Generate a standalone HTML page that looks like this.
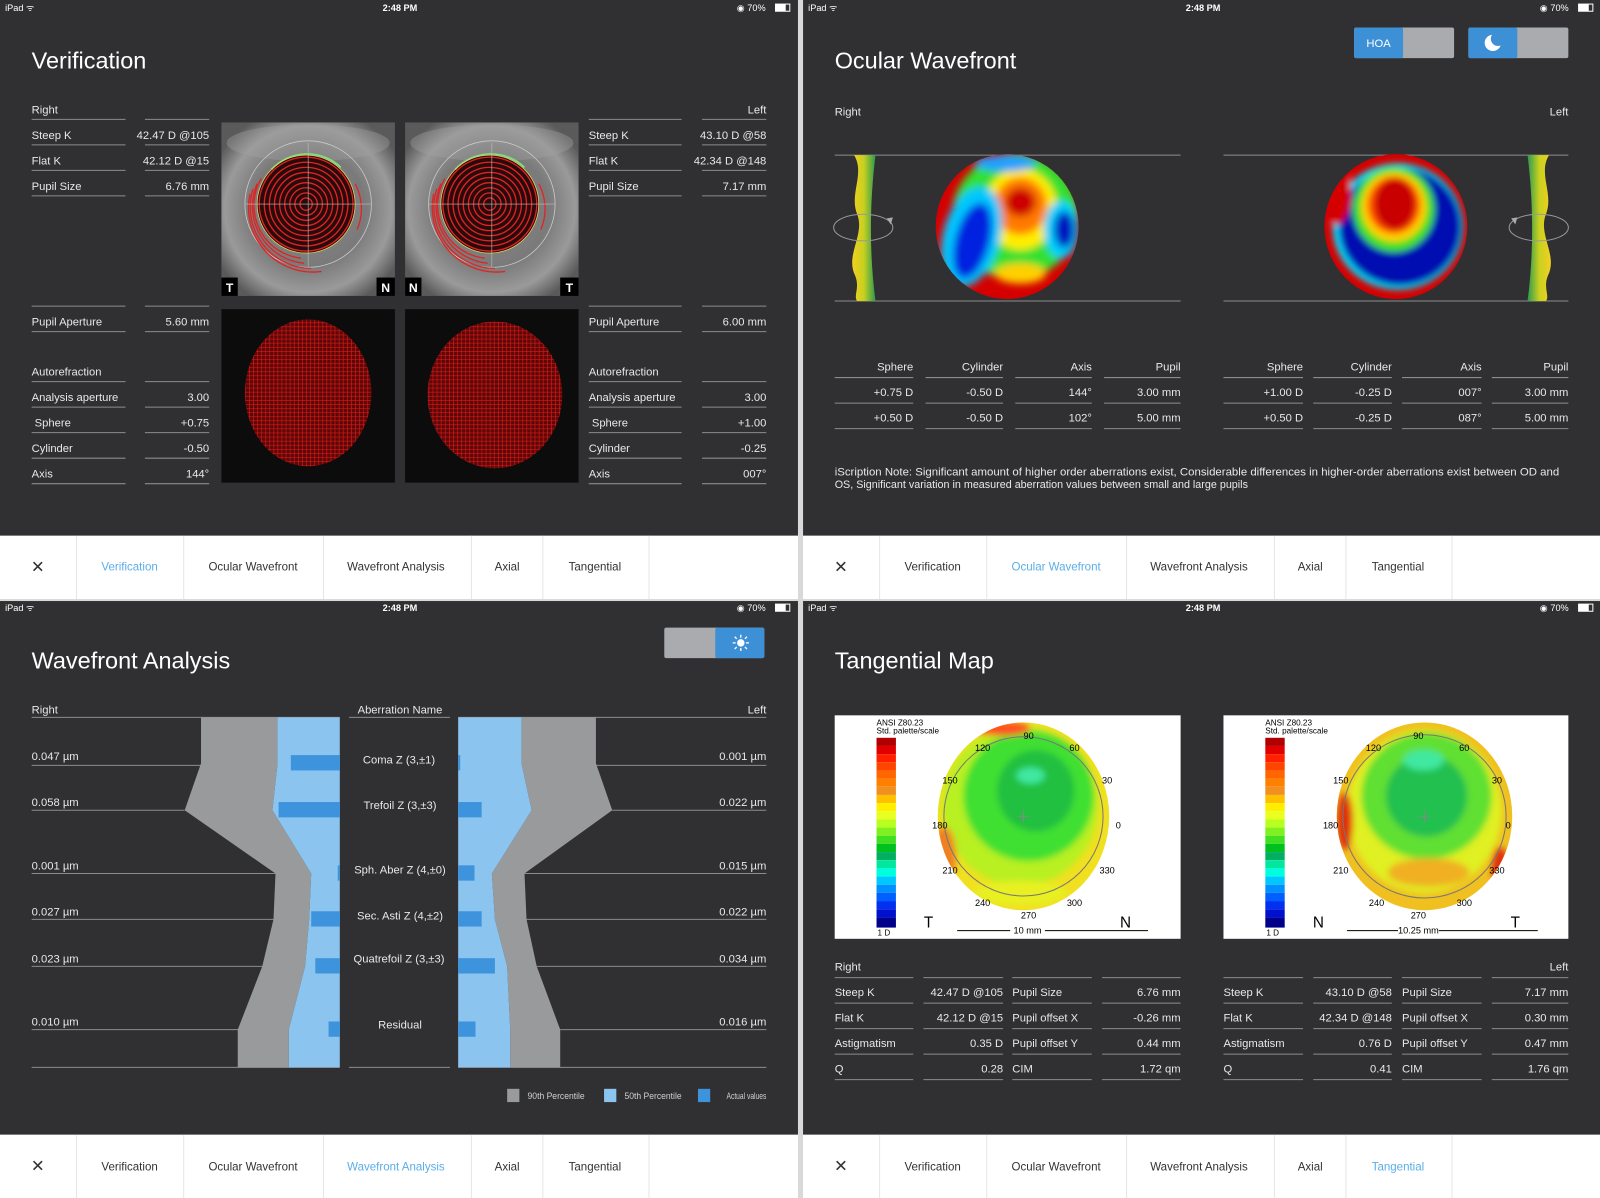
<!DOCTYPE html>
<html><head><meta charset="utf-8"><style>
html,body{margin:0;padding:0;background:#d9d9d9;}
svg{display:block;}
text{font-family:"Liberation Sans",sans-serif;}
</style></head><body>
<svg width="1600" height="1198" viewBox="0 0 1568 1174" preserveAspectRatio="none" xmlns="http://www.w3.org/2000/svg">
<defs>
<radialGradient id="eyeg" cx="50%" cy="50%" r="60%"><stop offset="0" stop-color="#8a8a8a"/><stop offset="0.55" stop-color="#7a7a7a"/><stop offset="0.8" stop-color="#9a9a9a"/><stop offset="1" stop-color="#5a5a5a"/></radialGradient>
<pattern id="grid" width="4" height="4" patternUnits="userSpaceOnUse"><rect width="4" height="4" fill="#5a0808"/><path d="M0 0H4M0 0V4" stroke="#e01818" stroke-width="1.2"/></pattern>
<filter id="bl" x="-20%" y="-20%" width="140%" height="140%"><feGaussianBlur stdDeviation="4"/></filter>
<filter id="bl2" x="-20%" y="-20%" width="140%" height="140%"><feGaussianBlur stdDeviation="3"/></filter>
<clipPath id="cwl"><ellipse cx="987" cy="222" rx="70" ry="71"/></clipPath>
<clipPath id="cwr"><ellipse cx="1368" cy="222" rx="70" ry="71"/></clipPath>
<clipPath id="ctl"><ellipse cx="1003" cy="800" rx="84" ry="92"/></clipPath>
<clipPath id="ctr"><ellipse cx="1396" cy="800" rx="86" ry="92"/></clipPath>
<linearGradient id="lens" x1="0" x2="1"><stop offset="0" stop-color="#f2d020"/><stop offset="0.5" stop-color="#c8d020"/><stop offset="1" stop-color="#2a9a50"/></linearGradient>
<linearGradient id="lens2" x1="1" x2="0"><stop offset="0" stop-color="#f2d020"/><stop offset="0.5" stop-color="#c8d020"/><stop offset="1" stop-color="#2a9a50"/></linearGradient>
</defs>

<rect width="1568" height="1174" fill="#d9d9d9"/>
<rect x="0" y="0" width="782" height="525" fill="#303032"/>
<rect x="0" y="525" width="782" height="62" fill="#fff"/>
<rect x="787" y="0" width="781" height="525" fill="#303032"/>
<rect x="787" y="525" width="781" height="62" fill="#fff"/>
<rect x="0" y="589" width="782" height="523" fill="#303032"/>
<rect x="0" y="1112" width="782" height="62" fill="#fff"/>
<rect x="787" y="589" width="781" height="523" fill="#303032"/>
<rect x="787" y="1112" width="781" height="62" fill="#fff"/>

<g fill="#fff" font-size="9">
<text x="5" y="11">iPad ᯤ</text><text x="392" y="11" text-anchor="middle" font-weight="bold">2:48 PM</text><text x="722" y="11">◉ 70%</text>
<text x="792" y="11">iPad ᯤ</text><text x="1179" y="11" text-anchor="middle" font-weight="bold">2:48 PM</text><text x="1509" y="11">◉ 70%</text>
<text x="5" y="599">iPad ᯤ</text><text x="392" y="599" text-anchor="middle" font-weight="bold">2:48 PM</text><text x="722" y="599">◉ 70%</text>
<text x="792" y="599">iPad ᯤ</text><text x="1179" y="599" text-anchor="middle" font-weight="bold">2:48 PM</text><text x="1509" y="599">◉ 70%</text>
</g>
<g fill="none" stroke="#fff"><rect x="760" y="4" width="14" height="7"/><rect x="1547" y="4" width="14" height="7"/><rect x="760" y="592" width="14" height="7"/><rect x="1547" y="592" width="14" height="7"/></g>
<g fill="#fff"><rect x="760" y="4" width="10" height="7"/><rect x="1547" y="4" width="10" height="7"/><rect x="760" y="592" width="10" height="7"/><rect x="1547" y="592" width="10" height="7"/></g>

<g fill="#fff" font-size="23">
<text x="31" y="67">Verification</text>
<text x="818" y="67">Ocular Wavefront</text>
<text x="31" y="655">Wavefront Analysis</text>
<text x="818" y="655">Tangential Map</text>
</g>

<g font-size="11.3" fill="#333" text-anchor="middle">
<g id="tb1">
<text x="37" y="561" font-size="16">✕</text>
<g stroke="#e6e6e6"><line x1="75" y1="525" x2="75" y2="587"/><line x1="180" y1="525" x2="180" y2="587"/><line x1="317" y1="525" x2="317" y2="587"/><line x1="462" y1="525" x2="462" y2="587"/><line x1="532" y1="525" x2="532" y2="587"/><line x1="636" y1="525" x2="636" y2="587"/></g>
</g>
<text x="127" y="559" fill="#5aaee8">Verification</text><text x="248" y="559">Ocular Wavefront</text><text x="388" y="559">Wavefront Analysis</text><text x="497" y="559">Axial</text><text x="583" y="559">Tangential</text>
<use href="#tb1" x="787"/>
<text x="914" y="559">Verification</text><text x="1035" y="559" fill="#5aaee8">Ocular Wavefront</text><text x="1175" y="559">Wavefront Analysis</text><text x="1284" y="559">Axial</text><text x="1370" y="559">Tangential</text>
<use href="#tb1" y="587"/>
<text x="127" y="1147">Verification</text><text x="248" y="1147">Ocular Wavefront</text><text x="388" y="1147" fill="#5aaee8">Wavefront Analysis</text><text x="497" y="1147">Axial</text><text x="583" y="1147">Tangential</text>
<use href="#tb1" x="787" y="587"/>
<text x="914" y="1147">Verification</text><text x="1035" y="1147">Ocular Wavefront</text><text x="1175" y="1147">Wavefront Analysis</text><text x="1284" y="1147">Axial</text><text x="1370" y="1147" fill="#5aaee8">Tangential</text>
</g>

<!-- Panel 1 -->
<g stroke="#8c8c8c" stroke-width="1">
<path d="M31 117H123M142 117H205M31 142H123M142 142H205M31 167H123M142 167H205M31 192H123M142 192H205M31 300H123M142 300H205M31 325H123M142 325H205M31 374H123M142 374H205M31 399H123M142 399H205M31 424H123M142 424H205M31 449H123M142 449H205M31 474H123M142 474H205"/>
<path d="M577 117H668M688 117H751M577 142H668M688 142H751M577 167H668M688 167H751M577 192H668M688 192H751M577 300H668M688 300H751M577 325H668M688 325H751M577 374H668M688 374H751M577 399H668M688 399H751M577 424H668M688 424H751M577 449H668M688 449H751M577 474H668M688 474H751"/>
</g>
<g fill="#e8e8e8" font-size="11">
<text x="31" y="111">Right</text><text x="31" y="136">Steep K</text><text x="31" y="161">Flat K</text><text x="31" y="186">Pupil Size</text><text x="31" y="319">Pupil Aperture</text><text x="31" y="368">Autorefraction</text><text x="31" y="393">Analysis aperture</text><text x="34" y="418">Sphere</text><text x="31" y="443">Cylinder</text><text x="31" y="468">Axis</text>
<text x="577" y="136">Steep K</text><text x="577" y="161">Flat K</text><text x="577" y="186">Pupil Size</text><text x="577" y="319">Pupil Aperture</text><text x="577" y="368">Autorefraction</text><text x="577" y="393">Analysis aperture</text><text x="580" y="418">Sphere</text><text x="577" y="443">Cylinder</text><text x="577" y="468">Axis</text>
<g text-anchor="end">
<text x="205" y="136">42.47 D @105</text><text x="205" y="161">42.12 D @15</text><text x="205" y="186">6.76 mm</text><text x="205" y="319">5.60 mm</text><text x="205" y="393">3.00</text><text x="205" y="418">+0.75</text><text x="205" y="443">-0.50</text><text x="205" y="468">144°</text>
<text x="751" y="111">Left</text><text x="751" y="136">43.10 D @58</text><text x="751" y="161">42.34 D @148</text><text x="751" y="186">7.17 mm</text><text x="751" y="319">6.00 mm</text><text x="751" y="393">3.00</text><text x="751" y="418">+1.00</text><text x="751" y="443">-0.25</text><text x="751" y="468">007°</text>
</g></g>

<g id="eye1">
<rect x="217" y="120" width="170" height="170" fill="url(#eyeg)"/>
<ellipse cx="302" cy="140" rx="80" ry="18" fill="#a0a0a0" opacity="0.4"/>
<circle cx="302" cy="200" r="62" fill="none" stroke="#c8c8c8" stroke-width="0.8"/>
<circle cx="300" cy="200" r="48" fill="#2a0a0a"/>
<g fill="none" stroke="#e02424" stroke-width="1.3">
<circle cx="300" cy="200" r="46"/><circle cx="300" cy="200" r="41"/><circle cx="300" cy="200" r="36"/><circle cx="300" cy="200" r="31"/><circle cx="300" cy="200" r="26"/><circle cx="300" cy="200" r="21"/><circle cx="300" cy="200" r="16"/><circle cx="300" cy="200" r="11"/><circle cx="300" cy="200" r="6"/>
<path d="M256 175A52 52 0 0 0 295 253M252 180A56 56 0 0 0 298 258M248 185A60 60 0 0 0 305 263M245 190A63 63 0 0 0 315 266M348 180A52 52 0 0 1 350 225"/>
</g>
<path d="M266 166A48 48 0 0 1 334 164" fill="none" stroke="#7ee07e" stroke-width="1.6"/>
<circle cx="300" cy="200" r="48" fill="none" stroke="#d8d060" stroke-width="0.8"/>
<path d="M240 200H364M302 140V262" stroke="#bbb" stroke-width="0.6"/>
</g>
<rect x="217" y="272" width="16" height="18" fill="#000"/><text x="225" y="286" fill="#fff" font-size="12" font-weight="bold" text-anchor="middle">T</text>
<rect x="369" y="272" width="18" height="18" fill="#000"/><text x="378" y="286" fill="#fff" font-size="12" font-weight="bold" text-anchor="middle">N</text>
<use href="#eye1" x="180"/>
<rect x="397" y="272" width="16" height="18" fill="#000"/><text x="405" y="286" fill="#fff" font-size="12" font-weight="bold" text-anchor="middle">N</text>
<rect x="549" y="272" width="18" height="18" fill="#000"/><text x="558" y="286" fill="#fff" font-size="12" font-weight="bold" text-anchor="middle">T</text>

<rect x="217" y="303" width="170" height="170" fill="#0c0c0c"/>
<rect x="397" y="303" width="170" height="170" fill="#0c0c0c"/>
<ellipse cx="302" cy="385" rx="62" ry="72" fill="url(#grid)"/>
<ellipse cx="485" cy="387" rx="66" ry="72" fill="url(#grid)"/>

<!-- Panel 2 -->
<rect x="1327" y="27" width="98" height="30" rx="2" fill="#a9abae"/><rect x="1327" y="27" width="48" height="30" rx="2" fill="#3d8fd6"/>
<text x="1351" y="46" fill="#fff" font-size="11" text-anchor="middle">HOA</text>
<rect x="1439" y="27" width="98" height="30" rx="2" fill="#a9abae"/><rect x="1439" y="27" width="48" height="30" rx="2" fill="#3d8fd6"/>
<circle cx="1463" cy="42" r="8" fill="#fff"/><circle cx="1468" cy="38" r="7" fill="#3d8fd6"/>
<g fill="#e8e8e8" font-size="11"><text x="818" y="113">Right</text><text x="1537" y="113" text-anchor="end">Left</text></g>
<path d="M818 152H1157M818 295H1157M1199 152H1537M1199 295H1537" stroke="#8c8c8c"/>
<path d="M837 152 C848 170 832 190 840 210 C848 230 828 250 838 270 C843 282 836 290 840 295 L858 295 C852 250 852 200 858 152Z" fill="url(#lens)"/>
<ellipse cx="846" cy="223" rx="29" ry="13" fill="none" stroke="#999" stroke-width="1"/>
<path d="M869 214l4 6 2-7z" fill="#aaa"/>
<path d="M1518 152 C1507 170 1523 190 1515 210 C1507 230 1527 250 1517 270 C1512 282 1519 290 1515 295 L1497 295 C1503 250 1503 200 1497 152Z" fill="url(#lens2)"/>
<ellipse cx="1508" cy="223" rx="29" ry="13" fill="none" stroke="#999" stroke-width="1"/>
<path d="M1481 214l4 6 2-7z" fill="#aaa"/>
<g clip-path="url(#cwl)">
<rect x="910" y="145" width="160" height="160" fill="#d40000"/>
<g filter="url(#bl)">
<ellipse cx="995" cy="212" rx="62" ry="62" fill="#30e030"/>
<ellipse cx="1000" cy="205" rx="36" ry="40" fill="#ffee00"/>
<ellipse cx="1000" cy="202" rx="26" ry="28" fill="#ff7a00"/>
<ellipse cx="1000" cy="198" rx="15" ry="14" fill="#cc0000"/>
<ellipse cx="952" cy="232" rx="28" ry="50" fill="#00c8ff" transform="rotate(15 952 232)"/>
<ellipse cx="953" cy="236" rx="17" ry="38" fill="#0020e0" transform="rotate(15 953 236)"/>
<ellipse cx="1040" cy="225" rx="17" ry="28" fill="#00d0ff"/>
<ellipse cx="1043" cy="225" rx="10" ry="18" fill="#0018c0"/>
<ellipse cx="985" cy="160" rx="30" ry="8" fill="#20a0ff"/>
<ellipse cx="1000" cy="268" rx="25" ry="10" fill="#ffd000"/>
</g></g>
<g clip-path="url(#cwr)">
<rect x="1290" y="145" width="160" height="160" fill="#d40000"/>
<g filter="url(#bl2)">
<ellipse cx="1370" cy="222" rx="64" ry="62" fill="#00e0ff"/>
<ellipse cx="1372" cy="222" rx="60" ry="58" fill="#0010b0"/>
<ellipse cx="1366" cy="205" rx="40" ry="42" fill="#40e020"/>
<ellipse cx="1366" cy="203" rx="32" ry="34" fill="#ffd000"/>
<ellipse cx="1366" cy="201" rx="26" ry="28" fill="#ff5000"/>
<ellipse cx="1367" cy="200" rx="20" ry="25" fill="#c80000"/>
<ellipse cx="1310" cy="190" rx="14" ry="30" fill="#d40000"/>
</g></g>
<g stroke="#8c8c8c"><path d="M818 370H895M907 370H983M995 370H1070M1082 370H1157M818 395H895M907 395H983M995 395H1070M1082 395H1157M818 420H895M907 420H983M995 420H1070M1082 420H1157"/>
<path d="M1199 370H1277M1287 370H1364M1374 370H1452M1462 370H1537M1199 395H1277M1287 395H1364M1374 395H1452M1462 395H1537M1199 420H1277M1287 420H1364M1374 420H1452M1462 420H1537"/></g>
<g fill="#e8e8e8" font-size="11" text-anchor="end">
<text x="895" y="363">Sphere</text><text x="983" y="363">Cylinder</text><text x="1070" y="363">Axis</text><text x="1157" y="363">Pupil</text>
<text x="895" y="388">+0.75 D</text><text x="983" y="388">-0.50 D</text><text x="1070" y="388">144°</text><text x="1157" y="388">3.00 mm</text>
<text x="895" y="413">+0.50 D</text><text x="983" y="413">-0.50 D</text><text x="1070" y="413">102°</text><text x="1157" y="413">5.00 mm</text>
<text x="1277" y="363">Sphere</text><text x="1364" y="363">Cylinder</text><text x="1452" y="363">Axis</text><text x="1537" y="363">Pupil</text>
<text x="1277" y="388">+1.00 D</text><text x="1364" y="388">-0.25 D</text><text x="1452" y="388">007°</text><text x="1537" y="388">3.00 mm</text>
<text x="1277" y="413">+0.50 D</text><text x="1364" y="413">-0.25 D</text><text x="1452" y="413">087°</text><text x="1537" y="413">5.00 mm</text>
</g>
<g fill="#e8e8e8" font-size="11"><text x="818" y="466" textLength="710" lengthAdjust="spacingAndGlyphs">iScription Note: Significant amount of higher order aberrations exist, Considerable differences in higher-order aberrations exist between OD and</text>
<text x="818" y="478" textLength="405" lengthAdjust="spacingAndGlyphs">OS,  Significant variation in measured aberration values between small and large pupils</text></g>

<!-- Panel 3 -->
<rect x="651" y="615" width="98" height="30" rx="2" fill="#a9abae"/><rect x="701" y="615" width="48" height="30" rx="2" fill="#3d8fd6"/>
<g stroke="#fff" stroke-width="1.3"><circle cx="726" cy="630" r="3" fill="#fff"/><path d="M726 622v3M726 635v3M718 630h3M731 630h3M720 624l2 2M730 634l2 2M732 624l-2 2M722 634l-2 2"/></g>
<g stroke="#8c8c8c"><path d="M31 703H333M342 703H441M449 703H751M31 750H200M31 794H181M31 856H270M31 901H268M31 947H258M31 1009H234M31 1046H333M342 1046H441M449 1046H751M584 750H751M600 794H751M514 856H751M516 901H751M526 947H751M549 1009H751"/></g>
<path d="M197 703L272 703 272 748 267 794 305 856 303 901 299 947 283 1009 283 1046 233 1046 233 1009 257 947 268 901 270 856 181 794 197 748Z" fill="#999a9c"/>
<path d="M272 703L333 703 333 1046 283 1046 283 1009 299 947 303 901 305 856 267 794 272 748Z" fill="#8cc4f0"/>
<path d="M584 703L511 703 511 748 521 794 482 856 485 901 497 947 500 1009 500 1046 549 1046 549 1009 526 947 516 901 514 856 600 794 584 748Z" fill="#999a9c"/>
<path d="M449 703L511 703 511 748 521 794 482 856 485 901 497 947 500 1009 500 1046 449 1046Z" fill="#8cc4f0"/>
<g fill="#3d93dc">
<rect x="285" y="740" width="48" height="15"/><rect x="273" y="786" width="60" height="15"/><rect x="331" y="848" width="2" height="15"/><rect x="305" y="893" width="28" height="15"/><rect x="309" y="939" width="24" height="15"/><rect x="322" y="1001" width="11" height="15"/>
<rect x="449" y="740" width="2" height="15"/><rect x="449" y="786" width="23" height="15"/><rect x="449" y="848" width="16" height="15"/><rect x="449" y="893" width="23" height="15"/><rect x="449" y="939" width="36" height="15"/><rect x="449" y="1001" width="17" height="15"/>
</g>
<g fill="#e8e8e8" font-size="11">
<text x="31" y="699">Right</text><text x="392" y="699" text-anchor="middle">Aberration Name</text><text x="751" y="699" text-anchor="end">Left</text>
<text x="31" y="745">0.047 µm</text><text x="31" y="790">0.058 µm</text><text x="31" y="852">0.001 µm</text><text x="31" y="897">0.027 µm</text><text x="31" y="943">0.023 µm</text><text x="31" y="1005">0.010 µm</text>
<g text-anchor="end"><text x="751" y="745">0.001 µm</text><text x="751" y="790">0.022 µm</text><text x="751" y="852">0.015 µm</text><text x="751" y="897">0.022 µm</text><text x="751" y="943">0.034 µm</text><text x="751" y="1005">0.016 µm</text></g>
<g text-anchor="middle"><text x="391" y="748">Coma Z (3,±1)</text><text x="392" y="793">Trefoil Z (3,±3)</text><text x="392" y="856">Sph. Aber Z (4,±0)</text><text x="392" y="901">Sec. Asti Z (4,±2)</text><text x="391" y="943">Quatrefoil Z (3,±3)</text><text x="392" y="1008">Residual</text></g>
</g>
<rect x="497" y="1067" width="12" height="13" fill="#999a9c"/><rect x="592" y="1067" width="12" height="13" fill="#8cc4f0"/><rect x="684" y="1067" width="12" height="13" fill="#3d93dc"/>
<g fill="#d0d0d0" font-size="9"><text x="517" y="1077" textLength="56" lengthAdjust="spacingAndGlyphs">90th Percentile</text><text x="612" y="1077" textLength="56" lengthAdjust="spacingAndGlyphs">50th Percentile</text><text x="712" y="1077" textLength="39" lengthAdjust="spacingAndGlyphs">Actual values</text></g>

<!-- Panel 4 -->
<rect x="818" y="701" width="339" height="219" fill="#fff"/>
<rect x="1199" y="701" width="338" height="219" fill="#fff"/>
<g id="scale">
<text x="859" y="711" font-size="8" fill="#000">ANSI Z80.23</text><text x="859" y="719" font-size="8" fill="#000">Std. palette/scale</text>
<rect x="859" y="723" width="19" height="8" fill="#b00000"/><rect x="859" y="731" width="19" height="8" fill="#e00000"/><rect x="859" y="739" width="19" height="8" fill="#ff2000"/><rect x="859" y="747" width="19" height="8" fill="#ff4400"/><rect x="859" y="755" width="19" height="8" fill="#ff6600"/><rect x="859" y="763" width="19" height="8" fill="#ff8000"/><rect x="859" y="771" width="19" height="8" fill="#f09020"/><rect x="859" y="779" width="19" height="8" fill="#ffc000"/><rect x="859" y="787" width="19" height="8" fill="#ffee00"/><rect x="859" y="795" width="19" height="8" fill="#e8ff20"/><rect x="859" y="803" width="19" height="8" fill="#b8ff20"/><rect x="859" y="811" width="19" height="8" fill="#80f020"/><rect x="859" y="819" width="19" height="8" fill="#40e020"/><rect x="859" y="827" width="19" height="8" fill="#00c020"/><rect x="859" y="835" width="19" height="8" fill="#00b060"/><rect x="859" y="843" width="19" height="8" fill="#00e8a0"/><rect x="859" y="851" width="19" height="8" fill="#00ffe0"/><rect x="859" y="859" width="19" height="8" fill="#00c8ff"/><rect x="859" y="867" width="19" height="8" fill="#0090ff"/><rect x="859" y="875" width="19" height="8" fill="#0060ff"/><rect x="859" y="883" width="19" height="8" fill="#0030f0"/><rect x="859" y="891" width="19" height="8" fill="#0010d0"/><rect x="859" y="899" width="19" height="10" fill="#00008a"/>
<text x="860" y="917" font-size="8" fill="#000">1 D</text>
</g>
<use href="#scale" x="381"/>
<g clip-path="url(#ctl)">
<rect x="910" y="700" width="190" height="200" fill="#f0e020"/>
<g filter="url(#bl2)">
<ellipse cx="1000" cy="790" rx="76" ry="78" fill="#b8f020"/>
<ellipse cx="1008" cy="780" rx="64" ry="64" fill="#40e030"/>
<ellipse cx="1015" cy="775" rx="38" ry="40" fill="#20c040"/>
<ellipse cx="1010" cy="760" rx="14" ry="8" fill="#40e8a0"/>
<ellipse cx="925" cy="840" rx="12" ry="30" fill="#f08020"/>
<ellipse cx="980" cy="714" rx="30" ry="7" fill="#ff5020"/>
<ellipse cx="1000" cy="875" rx="45" ry="12" fill="#e8f020"/>
</g></g>
<circle cx="1003" cy="800" r="78" fill="none" stroke="#777" stroke-width="1"/>
<path d="M1003 800m-6 0h12m-6 -6v12" stroke="#888"/>
<g font-size="9" fill="#000" text-anchor="middle">
<text x="1008" y="724">90</text><text x="1053" y="736">60</text><text x="1085" y="768">30</text><text x="1096" y="812">0</text><text x="1085" y="856">330</text><text x="1053" y="888">300</text><text x="1008" y="900">270</text><text x="963" y="888">240</text><text x="931" y="856">210</text><text x="921" y="812">180</text><text x="931" y="768">150</text><text x="963" y="736">120</text>
<text x="910" y="909" font-size="15">T</text><text x="1103" y="909" font-size="15">N</text>
<text x="1007" y="915">10 mm</text>
</g>
<path d="M938 912H990M1024 912H1125" stroke="#000"/>
<g clip-path="url(#ctr)">
<rect x="1300" y="700" width="200" height="200" fill="#f0c020"/>
<g filter="url(#bl2)">
<ellipse cx="1396" cy="795" rx="76" ry="80" fill="#e0f020"/>
<ellipse cx="1398" cy="780" rx="64" ry="62" fill="#60e030"/>
<ellipse cx="1398" cy="780" rx="40" ry="40" fill="#20c050"/>
<ellipse cx="1395" cy="745" rx="20" ry="10" fill="#40e8a0"/>
<ellipse cx="1318" cy="805" rx="8" ry="28" fill="#e03010"/>
<ellipse cx="1470" cy="850" rx="8" ry="20" fill="#e03010"/>
<ellipse cx="1400" cy="855" rx="40" ry="14" fill="#f0b020"/>
</g></g>
<circle cx="1396" cy="800" r="80" fill="none" stroke="#777" stroke-width="1"/>
<path d="M1396 800m-6 0h12m-6 -6v12" stroke="#888"/>
<g font-size="9" fill="#000" text-anchor="middle">
<text x="1390" y="724">90</text><text x="1435" y="736">60</text><text x="1467" y="768">30</text><text x="1478" y="812">0</text><text x="1467" y="856">330</text><text x="1435" y="888">300</text><text x="1390" y="900">270</text><text x="1349" y="888">240</text><text x="1314" y="856">210</text><text x="1304" y="812">180</text><text x="1314" y="768">150</text><text x="1346" y="736">120</text>
<text x="1292" y="909" font-size="15">N</text><text x="1485" y="909" font-size="15">T</text>
<text x="1390" y="915">10.25 mm</text>
</g>
<path d="M1320 912H1370M1410 912H1507" stroke="#000"/>
<g stroke="#8c8c8c"><path d="M818 958H895M905 958H983M992 958H1070M1080 958H1157M818 983H895M905 983H983M992 983H1070M1080 983H1157M818 1008H895M905 1008H983M992 1008H1070M1080 1008H1157M818 1033H895M905 1033H983M992 1033H1070M1080 1033H1157M818 1058H895M905 1058H983M992 1058H1070M1080 1058H1157"/>
<path d="M1199 958H1277M1287 958H1364M1374 958H1452M1462 958H1537M1199 983H1277M1287 983H1364M1374 983H1452M1462 983H1537M1199 1008H1277M1287 1008H1364M1374 1008H1452M1462 1008H1537M1199 1033H1277M1287 1033H1364M1374 1033H1452M1462 1033H1537M1199 1058H1277M1287 1058H1364M1374 1058H1452M1462 1058H1537"/></g>
<g fill="#e8e8e8" font-size="11">
<text x="818" y="951">Right</text><text x="818" y="976">Steep K</text><text x="818" y="1001">Flat K</text><text x="818" y="1026">Astigmatism</text><text x="818" y="1051">Q</text>
<text x="992" y="976">Pupil Size</text><text x="992" y="1001">Pupil offset X</text><text x="992" y="1026">Pupil offset Y</text><text x="992" y="1051">CIM</text>
<text x="1199" y="976">Steep K</text><text x="1199" y="1001">Flat K</text><text x="1199" y="1026">Astigmatism</text><text x="1199" y="1051">Q</text>
<text x="1374" y="976">Pupil Size</text><text x="1374" y="1001">Pupil offset X</text><text x="1374" y="1026">Pupil offset Y</text><text x="1374" y="1051">CIM</text>
<g text-anchor="end">
<text x="983" y="976">42.47 D @105</text><text x="983" y="1001">42.12 D @15</text><text x="983" y="1026">0.35 D</text><text x="983" y="1051">0.28</text>
<text x="1157" y="976">6.76 mm</text><text x="1157" y="1001">-0.26 mm</text><text x="1157" y="1026">0.44 mm</text><text x="1157" y="1051">1.72 qm</text>
<text x="1537" y="951">Left</text>
<text x="1364" y="976">43.10 D @58</text><text x="1364" y="1001">42.34 D @148</text><text x="1364" y="1026">0.76 D</text><text x="1364" y="1051">0.41</text>
<text x="1537" y="976">7.17 mm</text><text x="1537" y="1001">0.30 mm</text><text x="1537" y="1026">0.47 mm</text><text x="1537" y="1051">1.76 qm</text>
</g></g>
</svg>
</body></html>
